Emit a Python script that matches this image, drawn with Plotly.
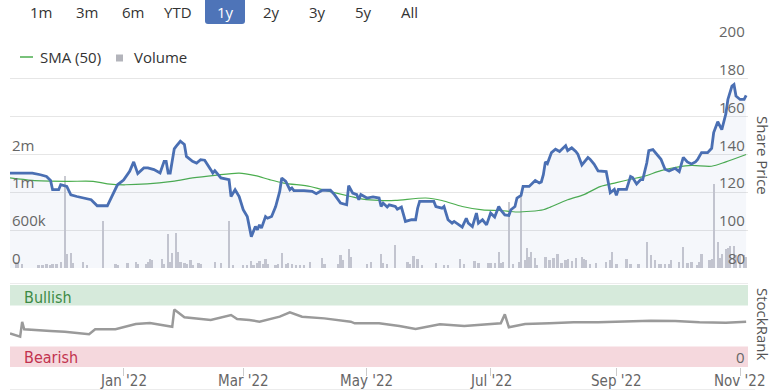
import plotly.graph_objects as go

# ---------------- data ----------------
price_dates = [
    "2021-11-06", "2021-11-17", "2021-11-21", "2021-11-24", "2021-11-26", "2021-11-27", "2021-11-30",
    "2021-12-01", "2021-12-04", "2021-12-06", "2021-12-09", "2021-12-12", "2021-12-16", "2021-12-19",
    "2021-12-24", "2021-12-29", "2022-01-01", "2022-01-04", "2022-01-06", "2022-01-08", "2022-01-11",
    "2022-01-13", "2022-01-16", "2022-01-19", "2022-01-21", "2022-01-22", "2022-01-23", "2022-01-24",
    "2022-01-26", "2022-01-27", "2022-01-29", "2022-01-31", "2022-02-01", "2022-02-04", "2022-02-06",
    "2022-02-08", "2022-02-10", "2022-02-13", "2022-02-14", "2022-02-15", "2022-02-18", "2022-02-22",
    "2022-02-23", "2022-02-25", "2022-02-27", "2022-03-01", "2022-03-03", "2022-03-05", "2022-03-07",
    "2022-03-08", "2022-03-09", "2022-03-10", "2022-03-12", "2022-03-13", "2022-03-15", "2022-03-17",
    "2022-03-18", "2022-03-19", "2022-03-20", "2022-03-22", "2022-03-24", "2022-03-25", "2022-03-26",
    "2022-03-31", "2022-04-04", "2022-04-06", "2022-04-09", "2022-04-13", "2022-04-15", "2022-04-18",
    "2022-04-21", "2022-04-22", "2022-04-24", "2022-04-26", "2022-04-27", "2022-04-28", "2022-05-01",
    "2022-05-04", "2022-05-07", "2022-05-08", "2022-05-09", "2022-05-11", "2022-05-12", "2022-05-15",
    "2022-05-16", "2022-05-18", "2022-05-20", "2022-05-23", "2022-05-25", "2022-05-26", "2022-05-27",
    "2022-06-03", "2022-06-04", "2022-06-07", "2022-06-08", "2022-06-10", "2022-06-12", "2022-06-13",
    "2022-06-17", "2022-06-19", "2022-06-20", "2022-06-22", "2022-06-24", "2022-06-25", "2022-06-27",
    "2022-06-29", "2022-07-01", "2022-07-03", "2022-07-05", "2022-07-06", "2022-07-08", "2022-07-10",
    "2022-07-11", "2022-07-13", "2022-07-14", "2022-07-16", "2022-07-17", "2022-07-20", "2022-07-23",
    "2022-07-25", "2022-07-26", "2022-07-27", "2022-07-28", "2022-07-29", "2022-07-31", "2022-08-02",
    "2022-08-04", "2022-08-07", "2022-08-08", "2022-08-10", "2022-08-12", "2022-08-13", "2022-08-15",
    "2022-08-18", "2022-08-19", "2022-08-21", "2022-08-23", "2022-08-27", "2022-08-29", "2022-08-31",
    "2022-09-01", "2022-09-02", "2022-09-06", "2022-09-08", "2022-09-09", "2022-09-11", "2022-09-13",
    "2022-09-14", "2022-09-16", "2022-09-17", "2022-09-19", "2022-09-21", "2022-09-23", "2022-09-25",
    "2022-09-27", "2022-09-30", "2022-10-02", "2022-10-04", "2022-10-06", "2022-10-08", "2022-10-10",
    "2022-10-11", "2022-10-13", "2022-10-16", "2022-10-18", "2022-10-19", "2022-10-21", "2022-10-23",
    "2022-10-25", "2022-10-26", "2022-10-28", "2022-10-29", "2022-10-30", "2022-11-01", "2022-11-03",
    "2022-11-04",
]
price_values = [
    130.2, 130.2, 129.3, 128.4, 126.3, 121.4, 121.4,
    124.0, 123.1, 118.7, 117.8, 117.0, 116.1, 112.9,
    112.9, 124.0, 126.5, 131.1, 136.1, 129.9, 132.9,
    132.9, 132.0, 130.2, 136.4, 136.4, 130.2, 130.2,
    143.0, 144.4, 147.0, 145.3, 139.0, 136.4, 135.5,
    137.3, 137.0, 132.0, 130.2, 131.5, 127.6, 126.7,
    117.8, 121.4, 117.8, 110.8, 107.2, 96.6, 101.9,
    100.2, 102.8, 101.1, 107.2, 106.3, 107.2, 112.5,
    116.1, 120.5, 127.6, 125.8, 121.4, 122.3, 120.9,
    120.9, 120.5, 119.3, 121.1, 121.1, 118.8, 114.3,
    113.4, 123.5, 119.6, 118.8, 116.1, 118.8, 117.0,
    117.6, 117.0, 112.5, 114.3, 112.2, 113.4, 112.5,
    111.1, 112.2, 104.6, 105.5, 105.5, 111.6, 115.2,
    115.2, 112.5, 111.6, 112.5, 105.5, 103.7, 104.6,
    101.6, 106.3, 103.7, 101.9, 109.0, 103.7, 105.5,
    102.8, 109.0, 106.9, 112.5, 110.7, 108.1, 107.8,
    110.8, 112.5, 117.0, 118.4, 123.1, 123.1, 126.2,
    125.0, 125.5, 129.3, 136.1, 135.2, 141.0, 142.8,
    141.6, 144.7, 142.1, 143.5, 141.6, 140.2, 134.5,
    138.4, 137.5, 134.9, 131.3, 131.0, 119.8, 121.6,
    118.4, 121.6, 121.6, 128.4, 127.8, 124.4, 126.7,
    126.7, 135.5, 142.1, 142.6, 140.2, 137.5, 132.2,
    131.3, 132.7, 131.0, 138.5, 136.1, 135.0, 136.1,
    137.3, 141.0, 141.0, 143.3, 151.6, 157.3, 153.2,
    161.5, 169.1, 176.2, 177.0, 170.9, 169.1, 169.1,
    171.3,
]

sma_dates = [
    "2021-11-06", "2021-11-17", "2021-12-04", "2021-12-17", "2021-12-24", "2022-01-02", "2022-01-25",
    "2022-02-04", "2022-02-15", "2022-02-27", "2022-03-07", "2022-03-14", "2022-03-21", "2022-04-03",
    "2022-04-09", "2022-04-23", "2022-04-29", "2022-05-07", "2022-05-15", "2022-05-30", "2022-06-07",
    "2022-06-17", "2022-06-27", "2022-07-06", "2022-07-14", "2022-07-27", "2022-07-30", "2022-08-08",
    "2022-08-16", "2022-08-24", "2022-09-01", "2022-09-08", "2022-09-15", "2022-09-23", "2022-10-01",
    "2022-10-08", "2022-10-18", "2022-10-25", "2022-11-04",
]
sma_values = [
    127.6, 126.3, 125.8, 125.8, 124.5, 124.0, 125.8,
    127.6, 129.0, 130.2, 128.8, 126.7, 124.9, 123.1,
    121.4, 117.8, 116.4, 115.7, 115.7, 117.0, 115.7,
    112.5, 110.7, 110.4, 109.6, 110.8, 112.0, 116.1,
    118.8, 123.0, 125.1, 126.9, 128.6, 131.5, 133.3,
    134.2, 133.8, 136.1, 140.0,
]

vol_dates = [
    "2021-11-09", "2021-11-10", "2021-11-12", "2021-11-20", "2021-11-22", "2021-11-24", "2021-11-26",
    "2021-11-27", "2021-11-29", "2021-12-01", "2021-12-03", "2021-12-04", "2021-12-06", "2021-12-07",
    "2021-12-12", "2021-12-14", "2021-12-22", "2021-12-28", "2021-12-29", "2022-01-03", "2022-01-07",
    "2022-01-08", "2022-01-12", "2022-01-13", "2022-01-14", "2022-01-15", "2022-01-20", "2022-01-21",
    "2022-01-23", "2022-01-24", "2022-01-25", "2022-01-27", "2022-01-28", "2022-01-29", "2022-01-31",
    "2022-02-01", "2022-02-03", "2022-02-04", "2022-02-07", "2022-02-08", "2022-02-15", "2022-02-18",
    "2022-02-22", "2022-02-24", "2022-03-01", "2022-03-03", "2022-03-05", "2022-03-06", "2022-03-08",
    "2022-03-09", "2022-03-11", "2022-03-12", "2022-03-13", "2022-03-17", "2022-03-18", "2022-03-20",
    "2022-03-22", "2022-03-23", "2022-03-25", "2022-03-27", "2022-03-29", "2022-03-31", "2022-04-03",
    "2022-04-09", "2022-04-10", "2022-04-17", "2022-04-18", "2022-04-19", "2022-04-22", "2022-04-23",
    "2022-05-01", "2022-05-03", "2022-05-08", "2022-05-09", "2022-05-11", "2022-05-15", "2022-05-21",
    "2022-05-22", "2022-05-24", "2022-05-26", "2022-05-28", "2022-06-04", "2022-06-08", "2022-06-10",
    "2022-06-16", "2022-06-18", "2022-06-23", "2022-06-25", "2022-06-30", "2022-07-01", "2022-07-03",
    "2022-07-05", "2022-07-06", "2022-07-07", "2022-07-10", "2022-07-12", "2022-07-15", "2022-07-16",
    "2022-07-18", "2022-07-19", "2022-07-20", "2022-07-21", "2022-07-23", "2022-07-24", "2022-07-28",
    "2022-07-30", "2022-08-01", "2022-08-03", "2022-08-05", "2022-08-07", "2022-08-08", "2022-08-10",
    "2022-08-12", "2022-08-15", "2022-08-16", "2022-08-17", "2022-08-19", "2022-08-22", "2022-08-27",
    "2022-08-29", "2022-08-30", "2022-09-01", "2022-09-06", "2022-09-08", "2022-09-12", "2022-09-16",
    "2022-09-18", "2022-09-20", "2022-09-22", "2022-09-23", "2022-09-25", "2022-09-27", "2022-09-28",
    "2022-10-02", "2022-10-04", "2022-10-06", "2022-10-08", "2022-10-11", "2022-10-12", "2022-10-13",
    "2022-10-17", "2022-10-18", "2022-10-19", "2022-10-21", "2022-10-22", "2022-10-23", "2022-10-25",
    "2022-10-26", "2022-10-27", "2022-10-29", "2022-10-30", "2022-11-01", "2022-11-03", "2022-11-04",
]
vol_values = [
    95000, 80000, 64000, 48000, 48000, 60000, 55000,
    64000, 70000, 100000, 1460000, 223000, 245000, 85000,
    100000, 48000, 740000, 60000, 48000, 75000, 100000,
    64000, 64000, 100000, 140000, 127000, 140000, 64000,
    540000, 100000, 245000, 550000, 260000, 100000, 75000,
    64000, 127000, 48000, 85000, 64000, 100000, 85000,
    740000, 48000, 42000, 42000, 117000, 42000, 85000,
    117000, 64000, 140000, 64000, 42000, 64000, 233000,
    64000, 75000, 64000, 48000, 48000, 48000, 100000,
    155000, 64000, 64000, 207000, 127000, 297000, 180000,
    64000, 100000, 223000, 75000, 64000, 366000, 100000,
    64000, 191000, 140000, 48000, 85000, 48000, 48000,
    140000, 64000, 117000, 85000, 75000, 85000, 85000,
    260000, 75000, 100000, 1050000, 58000, 100000, 1170000,
    127000, 313000, 180000, 260000, 165000, 48000, 180000,
    127000, 165000, 217000, 75000, 127000, 143000, 111000,
    165000, 180000, 150000, 127000, 58000, 75000, 100000,
    127000, 260000, 58000, 143000, 58000, 58000, 420000,
    200000, 127000, 58000, 58000, 58000, 58000, 127000,
    100000, 340000, 85000, 100000, 48000, 100000, 217000,
    127000, 150000, 1330000, 420000, 165000, 217000, 300000,
    310000, 355000, 355000, 200000, 220000, 200000, 180000,
]

rank_dates = [
    "2021-11-06", "2021-11-11", "2021-11-12", "2021-11-13", "2021-11-26", "2021-12-03", "2021-12-15",
    "2021-12-18", "2021-12-28", "2022-01-02", "2022-01-07", "2022-01-14", "2022-01-21", "2022-01-25",
    "2022-01-26", "2022-01-31", "2022-02-13", "2022-02-23", "2022-02-26", "2022-03-04", "2022-03-09",
    "2022-03-15", "2022-03-19", "2022-03-24", "2022-03-30", "2022-04-10", "2022-04-23", "2022-04-25",
    "2022-05-07", "2022-05-17", "2022-05-25", "2022-06-06", "2022-06-18", "2022-07-06", "2022-07-08",
    "2022-07-10", "2022-07-18", "2022-07-30", "2022-08-11", "2022-08-23", "2022-09-05", "2022-09-18",
    "2022-09-30", "2022-10-12", "2022-10-25", "2022-11-04",
]
rank_values = [
    41, 37, 55, 46, 44, 43, 40,
    46, 46, 49, 52.4, 53.6, 51, 49,
    70, 60.6, 57.3, 63.4, 58.5, 57.3, 55.3,
    58.5, 61.4, 66.6, 61.4, 59.3, 55.3, 53.3,
    53.3, 50, 46.3, 52, 50, 53.3, 64.2,
    48.4, 52.4, 53.3, 54.5, 54.5, 55.3, 56.5,
    56, 54.5, 54, 55.3,
]

range_buttons = ["1m", "3m", "6m", "YTD", "1y", "2y", "3y", "5y", "All"]
selected_button = "1y"
month_ticks = ["2022-01-01", "2022-03-01", "2022-05-01", "2022-07-01", "2022-09-01", "2022-11-01"]
month_labels = ["Jan '22", "Mar '22", "May '22", "Jul '22", "Sep '22", "Nov '22"]
price_ticks = [80, 100, 120, 140, 160, 180, 200]
vol_ticks = [0, 600000, 1200000, 1800000]
vol_tick_labels = ["0", "600k", "1m", "2m"]
rank_ticks = [0]

# ---------------- layout helpers ----------------
W, H = 773, 391


def px(x):
    return x / W


def py(y):
    return 1 - y / H


FONT = "Open Sans, Noto Sans, sans-serif"
NARROW = "DejaVu Sans Condensed, Liberation Sans Narrow, sans-serif"
LABEL_C = "#666666"
TEXT_C = "#333333"

X_L, X_R = 10, 748
x_range = ["2021-11-06", "2022-11-04 22:00"]

fig = go.Figure()

fig.add_trace(go.Bar(
    x=vol_dates, y=vol_values, xaxis="x", yaxis="y",
    marker=dict(color="#c9cad1", line=dict(width=0)),
    width=86400000 * 1.15, name="Volume",
))
fig.add_trace(go.Scatter(
    x=sma_dates, y=sma_values, xaxis="x", yaxis="y2", mode="lines",
    line=dict(color="#4cae4f", width=1.2, shape="spline", smoothing=0.8), name="SMA (50)",
))
fig.add_trace(go.Scatter(
    x=price_dates, y=price_values, xaxis="x", yaxis="y2", mode="lines",
    line=dict(color="#4a6fb3", width=2.8), fill="tozeroy",
    fillcolor="rgba(74,111,179,0.055)", name="Price",
))
fig.add_trace(go.Scatter(
    x=rank_dates, y=rank_values, xaxis="x2", yaxis="y3", mode="lines",
    line=dict(color="#9a9a9a", width=2.5), name="StockRank",
))

top_dom = [py(268), py(41)]
rank_dom = [py(367), py(285)]

fig.update_layout(
    width=W, height=H, margin=dict(l=0, r=0, t=0, b=0, autoexpand=False),
    paper_bgcolor="white", plot_bgcolor="rgba(0,0,0,0)",
    showlegend=False, bargap=0,
    font=dict(family=FONT, size=15, color=LABEL_C),
    xaxis=dict(domain=[px(X_L), px(X_R)], type="date", range=x_range, anchor="y",
               showticklabels=False, showgrid=False, zeroline=False, ticks=""),
    xaxis2=dict(domain=[px(X_L), px(X_R)], type="date", range=x_range, anchor="y3",
                matches="x", tickmode="array", tickvals=month_ticks, showticklabels=False,
                ticks="outside", ticklen=8, tickcolor="#cccccc", showgrid=False, zeroline=False,
                automargin=False),
    yaxis=dict(domain=top_dom, range=[0, 3600000], side="left", anchor="x",
               tickmode="array", tickvals=vol_ticks, showticklabels=False,
               showgrid=False, zeroline=False, ticks=""),
    yaxis2=dict(domain=top_dom, range=[80, 200], side="right", overlaying="y", anchor="x",
                tickmode="array", tickvals=price_ticks, showticklabels=False,
                showgrid=True, gridcolor="#e6e6e6", gridwidth=1, zeroline=False, ticks=""),
    yaxis3=dict(domain=rank_dom, range=[0, 100], side="right", anchor="x2",
                tickmode="array", tickvals=rank_ticks, showticklabels=False,
                showgrid=False, zeroline=False, ticks=""),
)

shapes = [
    # StockRank bands
    dict(type="rect", xref="paper", yref="y3", x0=px(X_L), x1=px(X_R), y0=75, y1=100,
         fillcolor="#d6eadb", line=dict(width=0), layer="below"),
    dict(type="rect", xref="paper", yref="y3", x0=px(X_L), x1=px(X_R), y0=0, y1=25,
         fillcolor="#f5d8dd", line=dict(width=0), layer="below"),
    # faint frame lines
    dict(type="line", xref="paper", yref="paper", x0=px(X_L), x1=px(X_R), y0=py(283.5), y1=py(283.5),
         line=dict(color="#ececec", width=1)),
    dict(type="line", xref="paper", yref="paper", x0=px(X_L), x1=px(755), y0=py(389.5), y1=py(389.5),
         line=dict(color="#ececec", width=1)),
    # legend symbols
    dict(type="line", xref="paper", yref="paper", x0=px(20), x1=px(33), y0=py(57), y1=py(57),
         line=dict(color="#4cae4f", width=1.5)),
    dict(type="rect", xref="paper", yref="paper", x0=px(116), x1=px(123), y0=py(61.5), y1=py(54.5),
         fillcolor="#b3b4bb", line=dict(width=0)),
]

# selected range button (rounded)
bx0, bx1, by0, by1, r = 205, 245, 0, 24, 3
path = (f"M {px(bx0)},{py(by0)} L {px(bx1)},{py(by0)} L {px(bx1)},{py(by1 - r)} "
        f"Q {px(bx1)},{py(by1)} {px(bx1 - r)},{py(by1)} L {px(bx0 + r)},{py(by1)} "
        f"Q {px(bx0)},{py(by1)} {px(bx0)},{py(by1 - r)} Z")
shapes.append(dict(type="path", xref="paper", yref="paper", path=path,
                   fillcolor="#4e74b8", line=dict(width=0)))

annotations = []
button_centers = [41, 87, 132.5, 178, 225, 271, 317, 363, 409]
for lab, cx in zip(range_buttons, button_centers):
    annotations.append(dict(
        x=px(cx), y=py(12), xref="paper", yref="paper", text=lab, showarrow=False,
        xanchor="center", yanchor="middle",
        font=dict(family=FONT, size=15, color="white" if lab == selected_button else TEXT_C)))

# axis tick labels (placed through the axes' own scales)
for d, t in zip(month_ticks, month_labels):
    annotations.append(dict(x=d, y=py(380.5), xref="x2", yref="paper", text=t, showarrow=False,
                            xanchor="center", yanchor="middle", borderpad=0,
                            font=dict(family=NARROW, size=15, color=LABEL_C)))
for v in price_ticks:
    annotations.append(dict(x=px(747), y=v, xref="paper", yref="y2", text=str(v), showarrow=False,
                            xanchor="right", yanchor="middle", yshift=10,
                            font=dict(family=FONT, size=15, color=LABEL_C)))
for v, t in zip(vol_ticks, vol_tick_labels):
    annotations.append(dict(x=px(10), y=v, xref="paper", yref="y", text=t, showarrow=False,
                            xanchor="left", yanchor="middle", yshift=10,
                            font=dict(family=FONT, size=15, color=LABEL_C)))
for v in rank_ticks:
    annotations.append(dict(x=px(747), y=v, xref="paper", yref="y3", text=str(v), showarrow=False,
                            xanchor="right", yanchor="middle", yshift=10,
                            font=dict(family=FONT, size=15, color=LABEL_C)))

annotations += [
    dict(x=px(38), y=py(57), xref="paper", yref="paper", text="SMA (50)", showarrow=False,
         xanchor="left", yanchor="middle", font=dict(family=FONT, size=15, color=TEXT_C)),
    dict(x=px(132), y=py(57), xref="paper", yref="paper", text="Volume", showarrow=False,
         xanchor="left", yanchor="middle", font=dict(family=FONT, size=15, color=TEXT_C)),
    dict(x=px(763), y=py(155), xref="paper", yref="paper", text="Share Price", showarrow=False,
         textangle=90, xanchor="center", yanchor="middle", font=dict(family=FONT, size=15, color="#555555")),
    dict(x=px(763), y=py(324), xref="paper", yref="paper", text="StockRank", showarrow=False,
         textangle=90, xanchor="center", yanchor="middle", font=dict(family=FONT, size=15, color="#555555")),
    dict(x=px(22), y=py(297), xref="paper", yref="paper", text="Bullish", showarrow=False,
         xanchor="left", yanchor="middle",
         font=dict(family=NARROW, size=16, color="#3d8b45")),
    dict(x=px(22), y=py(357), xref="paper", yref="paper", text="Bearish", showarrow=False,
         xanchor="left", yanchor="middle",
         font=dict(family=NARROW, size=16, color="#c2334f")),
]

fig.update_layout(shapes=shapes, annotations=annotations)
fig.write_html("out.html")
